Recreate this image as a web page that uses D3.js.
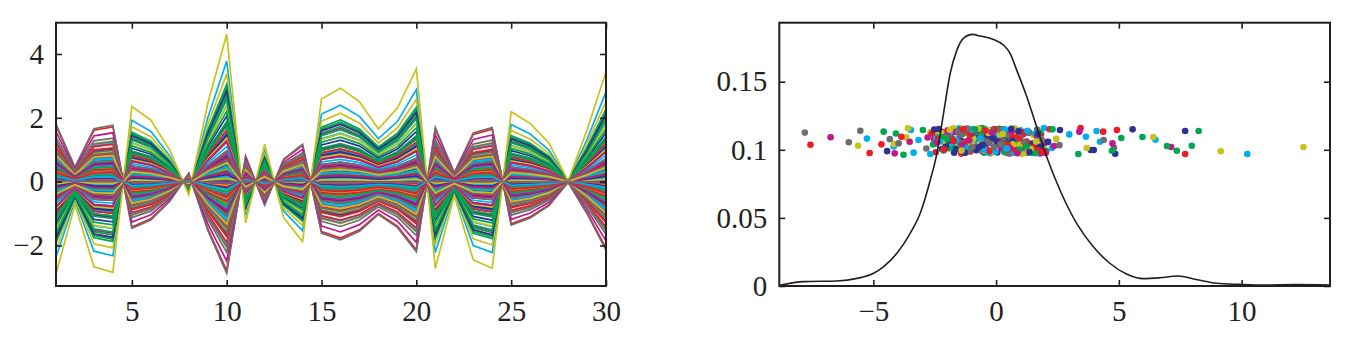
<!DOCTYPE html>
<html>
<head>
<meta charset="utf-8">
<script src="https://cdn.jsdelivr.net/npm/d3@7"></script>
<style>
  body { margin: 0; background: #fff; }
  svg text { font-family: "Liberation Serif", "Times New Roman", serif; fill: #231f20; }
</style>
</head>
<body>
<svg id="fig" width="1348" height="338"></svg>
<script>
// Loading profile over the 30 variables (one rank-1 component)
const loadings = [
  -0.231, -0.058, -0.213, -0.227, 0.188, 0.154, 0.079, -0.033, 0.195, 0.369,
  -0.103, 0.094, -0.090, -0.150, 0.207, 0.234, 0.200, 0.132, 0.184, 0.282,
  -0.217, -0.035, -0.196, -0.217, 0.175, 0.146, 0.096, 0.002, 0.129, 0.275
];

// Component scores, one per sample (rows of seven follow the colour cycle)
const scores = [
  -0.42, 0.62, -7.56, -5.26, -0.77, 0.43, -0.61,
  1.13, -4.58, 0.71, 0.24, 1.27, -1.16, -7.79,
  -1.87, -1.24, -1.05, -1.51, -1.44, 1.68, 0.99,
  0.26, 1.47, -2.27, 10.23, 0.15, 9.15, -1.92,
  -2.21, 8.25, 1.36, 1.09, -6.74, -0.52, 0.32,
  -4.44, -0.31, -0.38, -0.69, -2.18, -2.09, -1.21,
  0.78, -2.14, 0.12, -2.02, 0.92, 0.86, 1.53,
  -0.95, -4.08, -1.61, -4.17, -0.29, -0.21, 4.80,
  1.64, 0.19, 7.70, 1.73, 1.58, 1.29, -0.07,
  -1.38, 1.86, 1.83, -0.27, -1.83, -5.62, -2.31,
  0.05, 7.97, -0.74, 6.49, 0.47, -1.73, 0.69,
  5.56, -0.88, 0.49, 0.58, -0.96, 0.07, -1.47,
  -0.67, -1.56, -1.97, -1.18, 7.13, -0.93, 1.26,
  1.92, -3.77, -5.15, 1.95, 2.06, 1.97, -6.00,
  -2.48, 0.97, 1.02, -3.47, -0.11, -2.41, -0.39,
  0.51, -0.05, -0.19, -0.84, -2.53, 6.40, 0.11,
  -1.12, 7.36, -2.46, 0.09, 0.73, 0.55, -1.76,
  7.70, -2.39, 0.88, 4.09, -1.31, -1.36, 1.89,
  0.94, 1.31, -1.29, -2.36, 1.11, 1.08, -0.83,
  -0.23, 6.96, 4.92, 1.38, -4.13, -0.64, -5.53,
  1.41, -0.72, 1.55, -0.45, -0.55, -4.15, 0.58,
  -1.71, 0.44, -0.53, -3.36, 0.38, 0.29, -2.12,
  -0.58, -2.98, 0.31, 0.81, -1.66, -1.85, 1.01,
  4.85, -1.93, -1.79, -1.74, 1.79, 1.52, -0.26,
  0.33, 1.69, -4.67, 4.23, -0.86, -0.14, -1.08,
  -2.05, 5.96, 2.18, 1.19, 0.02, -2.23, 4.38,
  1.22, -0.49, -0.91, -1.03, 4.74, 12.52, 1.67,
  -0.81, 0.83, 0.64, 2.27, -2.26, 0.76, -0.57,
  0.67, 5.10, -1.42, -3.16, 1.45, -1.01, 0.46,
  3.98, -1.35, 4.36, -0.15, -0.41, 1.81, -2.49,
  -1.49, 2.04, 1.24, 0.53, 0.61, -0.46, 1.34,
  1.78, 4.72, -0.08, 3.66, -1.09, -3.66, -4.33,
  -0.12, -0.17, -2.11, -1.90, 1.88, 0.17, -0.97,
  -2.33, -2.57, 0.96, 1.61, -3.52, -1.54, 0.23,
  3.86, 1.15, -3.86, -0.59, -1.99, 1.17, -1.64,
  0.41, 3.35, -0.62, -2.68, 0.21, -2.67, 2.01,
  -1.02, -0.99, 1.71, -2.44, -0.68, 3.69, -0.44,
  1.05, 0.28, -1.17, 0.36, 1.03, 0.95, -3.97,
  -0.36, -1.68, 3.44, 2.98, -1.57, -0.79, 0.84,
  2.60, 2.30, 0.37, -1.26, 3.39, 2.45, -1.33,
  2.12, 1.58, -2.62, 0.99, 2.36, -3.59, 2.58,
  -1.63, -0.63, 1.48, -0.33, -2.79, -0.34, -2.84,
  -1.94, 0.35, 1.12, -0.48, -1.21, 0.68, -2.03,
  0.91, -1.47, -0.26, 1.59, 0.13, -1.88, 0.57,
  -0.69, 1.77, -2.36, -0.02, -1.39, 1.41, -0.92,
  1.36, -0.57, 0.48, -1.63, 2.02, -0.31, 1.14,
  -2.52, 0.21, -1.08, 0.74, -0.83, -2.15, 0.39,
  0.03, -2.21, 1.93, -0.97, 0.56, 1.06, -1.55,
  -1.27, 1.24, -0.44, -2.29, 1.67, -0.73, 0.18,
  1.71, -0.86, -1.73, 0.44, -0.18, -1.41, 1.85,
  -0.54, -1.99, 0.79, 1.28, -2.41, 0.27, -1.16,
  0.62, 0.96, -1.34, -0.65, 0.87, 1.63, -0.09
];

// Vertical offsets of the score dots drawn over the density
const jitter = [
  0.1043, 0.1108, 0.1037, 0.1082, 0.1121, 0.1015, 0.1064,
  0.0992, 0.1133, 0.1137, 0.1054, 0.0978, 0.1149, 0.1126,
  0.1112, 0.1025, 0.0987, 0.1158, 0.1069, 0.0983, 0.1097,
  0.1151, 0.0976, 0.1089, 0.0969, 0.1032, 0.0989, 0.1011,
  0.1006, 0.1138, 0.1125, 0.0995, 0.1092, 0.1074, 0.1141,
  0.0990, 0.1059, 0.1003, 0.1117, 0.1130, 0.1047, 0.0981,
  0.1079, 0.0994, 0.1154, 0.1022, 0.1008, 0.1128, 0.1050,
  0.1131, 0.1120, 0.1072, 0.1025, 0.1102, 0.0974, 0.1015,
  0.1018, 0.1146, 0.0969, 0.1086, 0.0985, 0.1039, 0.1123,
  0.1062, 0.1001, 0.1114, 0.0977, 0.1145, 0.1030, 0.1090,
  0.0980, 0.1030, 0.1049, 0.1074, 0.1119, 0.1157, 0.1004,
  0.1150, 0.1084, 0.0975, 0.1136, 0.1027, 0.1066, 0.1110,
  0.1097, 0.1012, 0.1143, 0.0998, 0.1020, 0.1081, 0.0979,
  0.1033, 0.0964, 0.0976, 0.1159, 0.1057, 0.1005, 0.1055,
  0.1124, 0.1104, 0.1029, 0.1145, 0.0991, 0.1135, 0.1068,
  0.0986, 0.1153, 0.1118, 0.1041, 0.1077, 0.1094, 0.1139,
  0.1070, 0.0993, 0.0982, 0.1102, 0.1147, 0.1017, 0.1028,
  0.1138, 0.1060, 0.1093, 0.1138, 0.0999, 0.1156, 0.0984,
  0.1009, 0.1127, 0.1056, 0.1070, 0.1115, 0.0988, 0.1132,
  0.1101, 0.1028, 0.1145, 0.0981, 0.0974, 0.1046, 0.1139,
  0.1044, 0.1141, 0.1010, 0.1152, 0.1036, 0.1042, 0.1077,
  0.0978, 0.1071, 0.1128, 0.0979, 0.1088, 0.1140, 0.1003,
  0.1155, 0.1145, 0.0996, 0.1061, 0.1130, 0.1024, 0.1118,
  0.0971, 0.1014, 0.1083, 0.1035, 0.0973, 0.1109, 0.1051,
  0.1087, 0.1095, 0.1040, 0.1059, 0.1144, 0.0985, 0.0997,
  0.1026, 0.1094, 0.1151, 0.0992, 0.1063, 0.1124, 0.1072,
  0.1132, 0.0979, 0.1021, 0.1129, 0.1047, 0.1020, 0.1149,
  0.0997, 0.1055, 0.1099, 0.1013, 0.1082, 0.1158, 0.0990,
  0.1065, 0.1086, 0.0972, 0.1072, 0.1018, 0.1052, 0.1106,
  0.0998, 0.1117, 0.1133, 0.1147, 0.1000, 0.1078, 0.1045,
  0.1142, 0.0989, 0.1061, 0.1006, 0.1136, 0.0995, 0.1126,
  0.1023, 0.0993, 0.1148, 0.1096, 0.1068, 0.1091, 0.1078,
  0.1085, 0.1134, 0.1002, 0.1121, 0.0983, 0.1113, 0.1019,
  0.1153, 0.1039, 0.1076, 0.0975, 0.1059, 0.1048, 0.1139,
  0.0998, 0.1007, 0.1096, 0.1133, 0.1106, 0.0980, 0.1067,
  0.1048, 0.0969, 0.1156, 0.0969, 0.1011, 0.1129, 0.0988,
  0.1115, 0.1142, 0.0994, 0.1087, 0.1152, 0.1013, 0.1101,
  0.0976, 0.1066, 0.1131, 0.1150, 0.0995, 0.1036, 0.1047,
  0.1109, 0.1011, 0.1160, 0.1113, 0.1073, 0.1144, 0.0986,
  0.1145, 0.1150, 0.1042, 0.1016, 0.1133, 0.1080, 0.1125,
  0.1058, 0.0978, 0.1119, 0.1143, 0.1027, 0.1158, 0.1034,
  0.1003, 0.1124, 0.1016, 0.0987, 0.1090, 0.1146, 0.1009,
  0.1067, 0.0982, 0.1129, 0.1003, 0.1154, 0.1041, 0.1092,
  0.1136, 0.1051, 0.0990, 0.1118, 0.1062, 0.1147, 0.0972,
  0.1021, 0.1127, 0.1080, 0.0985, 0.1039, 0.1006, 0.1153,
  0.0984, 0.1160, 0.1034, 0.1071, 0.0977, 0.1123, 0.1058,
  0.1149, 0.1038, 0.1111, 0.0979, 0.1140, 0.1066, 0.1000,
  0.1057, 0.1093, 0.0983, 0.1148, 0.1014, 0.0970, 0.1135,
  0.0979, 0.1025, 0.1142, 0.1061, 0.1102, 0.1156, 0.1040,
  0.1118, 0.1149, 0.1065, 0.1009, 0.1128, 0.0994, 0.1076,
  0.1036, 0.1077, 0.0998, 0.1139, 0.1052, 0.1116, 0.1155,
  0.1154, 0.1002, 0.1150, 0.1083, 0.0975, 0.1060, 0.1021
];

// Kernel density estimate of the scores
const kdeX = [
  -8.83, -7.83, -6.48, -5.66, -4.99, -4.58, -4.04, -3.50, -3.09, -2.68,
  -2.41, -2.14, -1.87, -1.60, -1.33, -0.95, -0.65, -0.11, 0.30, 0.57,
  0.84, 1.25, 1.65, 2.06, 2.60, 3.28, 3.96, 4.63, 5.31, 6.00,
  6.67, 7.40, 8.20, 8.97, 9.92, 11.00, 12.20, 13.60
];
const kdeY = [
  0.0005, 0.0032, 0.0037, 0.0056, 0.0093, 0.0142, 0.0240, 0.0387, 0.0534, 0.0778,
  0.0974, 0.1268, 0.1560, 0.1730, 0.1818, 0.1847, 0.1835, 0.1810, 0.1769, 0.1708,
  0.1585, 0.1390, 0.1170, 0.0949, 0.0705, 0.0460, 0.0288, 0.0167, 0.0088, 0.0054,
  0.0060, 0.0073, 0.0046, 0.0020, 0.0012, 0.0007, 0.0010, 0.0007
];

const leftXTicks = [5, 10, 15, 20, 25, 30];
const leftYTicks = [-2, 0, 2, 4];
const rightXTicks = [-5, 0, 5, 10];
const rightYTicks = [0, 0.05, 0.1, 0.15];

const palette = ["#2e3192", "#00a651", "#ed1c24", "#00aeef", "#c0198c", "#c9c21c", "#6d6e71"];
const ink = "#231f20";
const minus = d => String(d).replace("-", "\u2212");

const svg = d3.select("#fig");

// Panel geometry
const L = { x0: 56, x1: 606, y0: 22.7, y1: 286 };
const R = { x0: 779.3, x1: 1330, y0: 22.7, y1: 286 };

function drawAxes(g, box, xs, ys, xt, yt) {
  const tick = 6, fs = 29;
  const bottom = g.append("g").attr("transform", `translate(0,${box.y1})`)
    .call(d3.axisBottom(xs).tickValues(xt).tickSizeInner(-tick).tickSizeOuter(0).tickPadding(14).tickFormat(minus));
  const top = g.append("g").attr("transform", `translate(0,${box.y0})`)
    .call(d3.axisTop(xs).tickValues(xt).tickSizeInner(-tick).tickSizeOuter(0).tickFormat(""));
  const left = g.append("g").attr("transform", `translate(${box.x0},0)`)
    .call(d3.axisLeft(ys).tickValues(yt).tickSizeInner(-tick).tickSizeOuter(0).tickPadding(12).tickFormat(minus));
  const right = g.append("g").attr("transform", `translate(${box.x1},0)`)
    .call(d3.axisRight(ys).tickValues(yt).tickSizeInner(-tick).tickSizeOuter(0).tickFormat(""));
  [bottom, top, left, right].forEach(a => {
    a.select(".domain").remove();
    a.selectAll(".tick line").attr("stroke", ink).attr("stroke-width", 1.6);
    a.selectAll("text").attr("font-size", fs).attr("fill", ink)
      .attr("font-family", "'Liberation Serif', 'Times New Roman', serif");
  });
  g.append("rect")
    .attr("x", box.x0).attr("y", box.y0)
    .attr("width", box.x1 - box.x0).attr("height", box.y1 - box.y0)
    .attr("fill", "none").attr("stroke", ink).attr("stroke-width", 2);
}

// ---- Left panel: each sample's reconstruction across the 30 variables
const xL = d3.scaleLinear().domain([1, 30]).range([L.x0, L.x1]);
const yL = d3.scaleLinear().domain([-3.27, 4.98]).range([L.y1, L.y0]);

svg.append("clipPath").attr("id", "clipL").append("rect")
  .attr("x", L.x0).attr("y", L.y0).attr("width", L.x1 - L.x0).attr("height", L.y1 - L.y0);

const lineL = d3.line().x(d => xL(d[0])).y(d => yL(d[1]));
const gL = svg.append("g");
gL.append("g").attr("clip-path", "url(#clipL)")
  .selectAll("path")
  .data(scores.map((s, i) => ({ i, pts: loadings.map((p, j) => [j + 1, p * s]) })))
  .join("path")
  .attr("d", d => lineL(d.pts))
  .attr("fill", "none")
  .attr("stroke", d => palette[d.i % palette.length])
  .attr("stroke-width", 1.7);
drawAxes(gL, L, xL, yL, leftXTicks, leftYTicks);

// ---- Right panel: score density with the individual scores
const xR = d3.scaleLinear().domain([-8.83, 13.6]).range([R.x0, R.x1]);
const yR = d3.scaleLinear().domain([0, 0.1933]).range([R.y1, R.y0]);

const gR = svg.append("g");
gR.append("g").selectAll("circle")
  .data(scores.map((s, i) => ({ i, s, y: jitter[i] })))
  .join("circle")
  .attr("cx", d => xR(d.s))
  .attr("cy", d => yR(d.y))
  .attr("r", 3.3)
  .attr("fill", d => palette[d.i % palette.length]);

const kde = kdeX.map((x, i) => [x, kdeY[i]]);
gR.append("path")
  .attr("d", d3.line().x(d => xR(d[0])).y(d => yR(d[1])).curve(d3.curveMonotoneX)(kde))
  .attr("fill", "none").attr("stroke", ink).attr("stroke-width", 1.6);
drawAxes(gR, R, xR, yR, rightXTicks, rightYTicks);
</script>
</body>
</html>
